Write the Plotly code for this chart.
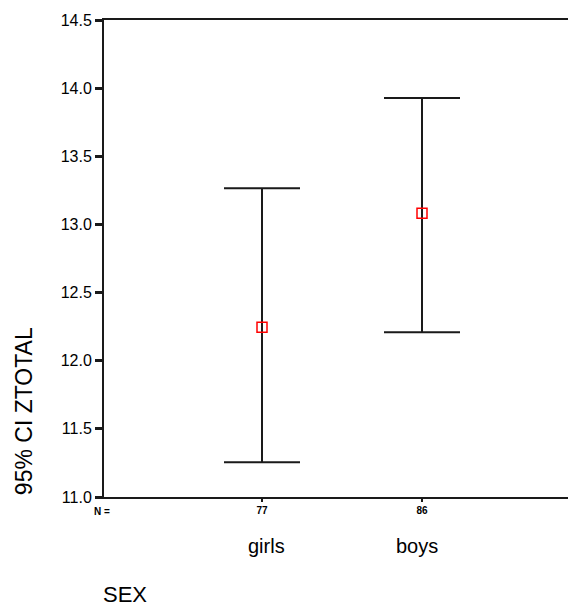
import plotly.graph_objects as go

# Data
categories = ["girls", "boys"]
n_values = ["77", "86"]
means = [12.245, 13.082]
ci_upper = [13.265, 13.928]
ci_lower = [11.255, 12.209]
y_ticks = [11.0, 11.5, 12.0, 12.5, 13.0, 13.5, 14.0, 14.5]

xpos = [1, 2]
err_plus = [u - m for u, m in zip(ci_upper, means)]
err_minus = [m - l for m, l in zip(means, ci_lower)]

LINE = "#1a1a1a"
FONT = "Liberation Sans, Arial, sans-serif"

fig = go.Figure()
fig.add_trace(go.Scatter(
    x=xpos, y=means, mode="markers",
    marker=dict(symbol="square-open", size=10, color="#ff0000",
                line=dict(width=1.5, color="#ff0000")),
    error_y=dict(type="data", symmetric=False, array=err_plus,
                 arrayminus=err_minus, color=LINE, thickness=2, width=38),
    showlegend=False, hoverinfo="skip",
))

fig.update_layout(
    width=568, height=606,
    margin=dict(l=104, r=0, t=20, b=109),
    paper_bgcolor="white", plot_bgcolor="white",
    font=dict(family=FONT, color="#000000"),
    xaxis=dict(
        range=[0.0125, 2.9125], showgrid=False, zeroline=False,
        showline=True, linecolor=LINE, linewidth=2, mirror=True,
        tickmode="array", tickvals=xpos, ticktext=["<b>%s</b>" % n for n in n_values],
        ticks="outside", ticklen=3, tickwidth=2, tickcolor=LINE,
        tickfont=dict(size=10, family=FONT),
    ),
    yaxis=dict(
        range=[11.0, 14.5], showgrid=False, zeroline=False,
        showline=True, linecolor=LINE, linewidth=2,
        tickmode="array", tickvals=y_ticks,
        ticktext=["%.1f" % v for v in y_ticks],
        ticks="outside", ticklen=7, tickwidth=3, tickcolor=LINE,
        tickfont=dict(size=16, family=FONT),
    ),
)

annotations = [
    dict(text="<b>N =</b>", xref="paper", yref="paper", x=-0.004, y=-0.0294,
         xanchor="center", yanchor="middle", showarrow=False,
         font=dict(size=10, family=FONT)),
    dict(text="SEX", xref="paper", yref="paper", x=0.045, y=-0.2034,
         xanchor="center", yanchor="middle", showarrow=False,
         font=dict(size=22, family=FONT)),
    dict(text="95% CI ZTOTAL", xref="paper", yref="paper", x=-0.1724, y=0.180,
         xanchor="center", yanchor="middle", textangle=-90, showarrow=False,
         font=dict(size=23, family=FONT)),
]
shifts = [4, -5]
for xp, cat, sh in zip(xpos, categories, shifts):
    annotations.append(dict(text=cat, xref="x", yref="paper", x=xp, y=-0.1027,
                            xshift=sh, xanchor="center", yanchor="middle",
                            showarrow=False, font=dict(size=20, family=FONT)))
fig.update_layout(annotations=annotations)

fig.write_html("out.html")
